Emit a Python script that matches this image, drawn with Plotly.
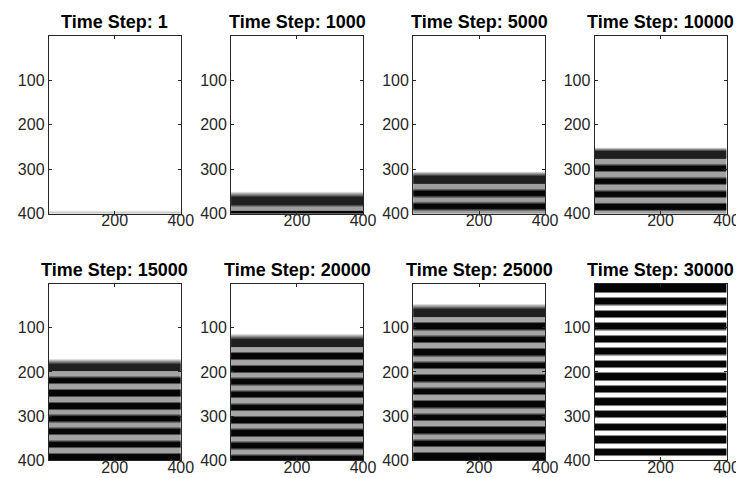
import plotly.graph_objects as go

# ---- data ----
steps = [1, 1000, 5000, 10000, 15000, 20000, 25000, 30000]

# row (y) where the white region ends and the wave front begins (None = field fully covered)
front_rows = [391, 349, 303, 249, 169, 111, 43, None]

# centres of the dark bands (rows)
dark_rows_1 = []
dark_rows_1000 = [370, 398]
dark_rows_5000 = [324, 353, 383]
dark_rows_10000 = [268, 297, 326, 355, 384]
dark_rows_15000 = [189, 218, 247, 276, 305, 334, 363, 392]
dark_rows_20000 = [134, 163, 192, 221, 250, 279, 308, 337, 366, 395]
dark_rows_25000 = [66, 95, 125, 154, 184, 213, 243, 272, 302, 331, 361, 390]
dark_rows_30000 = [10, 38, 67, 95, 124, 152, 181, 209, 238, 266, 295, 323, 352, 380]

# centres of the light bands (rows)
light_rows_1 = [400]
light_rows_1000 = [388]
light_rows_5000 = [338, 368, 397]
light_rows_10000 = [282, 311, 340, 369, 398]
light_rows_15000 = [203, 232, 261, 290, 319, 348, 377]
light_rows_20000 = [148, 177, 206, 235, 264, 293, 322, 351, 380]
light_rows_25000 = [80, 110, 139, 169, 198, 228, 257, 287, 316, 346, 375]
light_rows_30000 = [24, 53, 81, 110, 138, 167, 195, 224, 252, 281, 309, 338, 366, 395]

# gray levels (0 = black, 1 = white)
light_levels = [0.8, 0.62, 0.62, 0.64, 0.64, 0.65, 0.65, 1.0]
dark_level = 0.02
first_dark_level = 0.12

dark_rows = [dark_rows_1, dark_rows_1000, dark_rows_5000, dark_rows_10000,
             dark_rows_15000, dark_rows_20000, dark_rows_25000, dark_rows_30000]
light_rows = [light_rows_1, light_rows_1000, light_rows_5000, light_rows_10000,
              light_rows_15000, light_rows_20000, light_rows_25000, light_rows_30000]

x_ticks = [200, 400]
y_ticks = [100, 200, 300, 400]

# ---- styling (half-widths of band plateaus, per panel) ----
DARK_HALF = [5, 5, 5, 5, 5, 5, 5, 6]
LIGHT_HALF = [4, 4, 4, 4, 4, 4, 4, 3.5]
FONT = "Liberation Sans, Arial, Helvetica, sans-serif"
AX_COLOR = "#262626"

W, H = 744, 478
col_left = [41.5, 227.0, 412.3, 597.0]
panel_w = 134.5
row_top = [28.3, 280.7]
row_bot = [209.3, 460.0]


def build_profile(front, darks, lights, light_level, dh, lh):
    pts = []
    for i, d in enumerate(darks):
        first = (i == 0 and front is not None)
        v = first_dark_level if first else dark_level
        hw = dh + (3 if first else 0)
        pts.append((d - hw, v))
        pts.append((d + hw, v))
    for l in lights:
        pts.append((l - lh, light_level))
        pts.append((l + lh, light_level))
    pts.sort()
    if front is not None:
        pts = [(0.5, 1.0), (front, 1.0)] + [p for p in pts if p[0] > front]
    ys, zs = [], []
    for y, v in pts:
        if ys and y <= ys[-1]:
            continue
        ys.append(y)
        zs.append(v)
    return ys, zs


fig = go.Figure()
layout = {}
annotations = []
for k, step in enumerate(steps):
    r, c = divmod(k, 4)
    ys, zs = build_profile(front_rows[k], dark_rows[k], light_rows[k], light_levels[k],
                           DARK_HALF[k], LIGHT_HALF[k])
    xa = "x" if k == 0 else f"x{k+1}"
    ya = "y" if k == 0 else f"y{k+1}"
    fig.add_trace(go.Heatmap(
        x=[1, 400], y=ys, z=[[v, v] for v in zs],
        colorscale=[[0, "#000000"], [1, "#ffffff"]], zmin=0, zmax=1,
        zsmooth="best", showscale=False, xaxis=xa, yaxis=ya, hoverinfo="skip"))
    x0 = col_left[c] / W
    x1 = (col_left[c] + panel_w) / W
    y0 = 1 - row_bot[r] / H
    y1 = 1 - row_top[r] / H
    common = dict(ticks="inside", ticklen=3, tickwidth=1, tickcolor=AX_COLOR,
                  showline=True, mirror="ticks", linecolor=AX_COLOR, linewidth=1,
                  showgrid=False, zeroline=False,
                  tickfont=dict(family=FONT, size=16, color=AX_COLOR))
    layout["xaxis" if k == 0 else f"xaxis{k+1}"] = dict(
        domain=[x0, x1], anchor=ya, range=[0.5, 400.5], tickvals=x_ticks,
        ticklabelstandoff=-8, **common)
    layout["yaxis" if k == 0 else f"yaxis{k+1}"] = dict(
        domain=[y0, y1], anchor=xa, range=[400.5, 0.5], tickvals=y_ticks, **common)
    annotations.append(dict(
        text=f"<b>Time Step: {step}</b>", xref="paper", yref="paper",
        x=(x0 + x1) / 2, y=y1, xanchor="center", yanchor="bottom", yshift=2,
        showarrow=False, font=dict(family=FONT, size=18, color="#000000")))

fig.update_layout(**layout)
fig.update_layout(width=W, height=H, margin=dict(l=0, r=0, t=0, b=0),
                  paper_bgcolor="white", plot_bgcolor="white",
                  annotations=annotations, showlegend=False)
fig.write_html("out.html")
